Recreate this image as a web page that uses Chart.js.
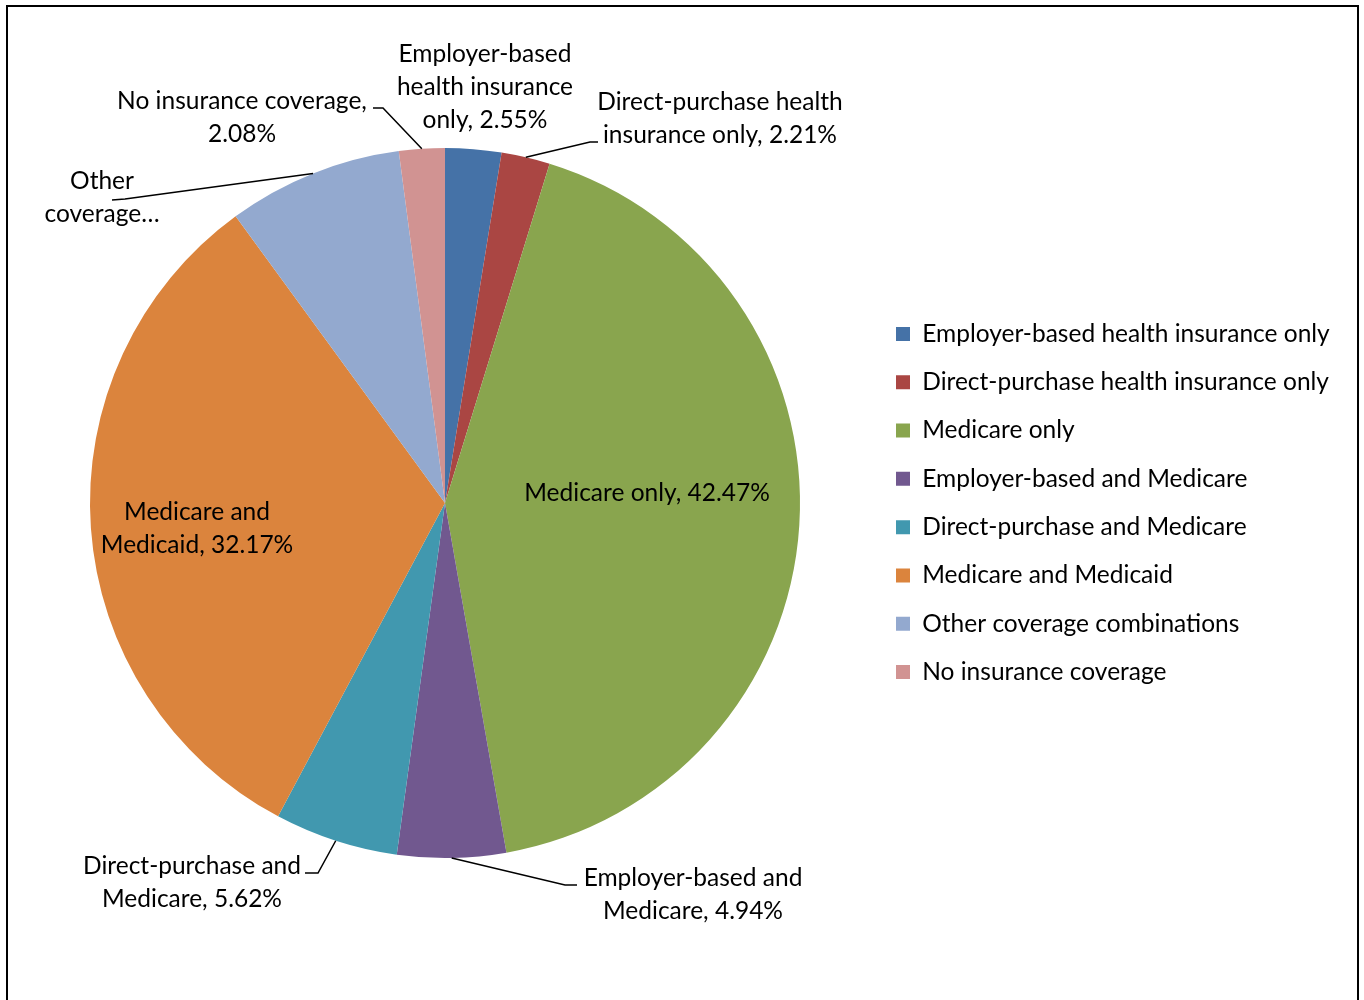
<!DOCTYPE html>
<html>
<head>
<meta charset="utf-8">
<title>Medicare coverage types</title>
<script src="https://cdn.jsdelivr.net/npm/chart.js@4.4.1/dist/chart.umd.min.js"></script>
<style>
    html, body { margin: 0; padding: 0; background: #fff; overflow: hidden; }
    #wrap { position: relative; width: 1364px; height: 1000px; overflow: hidden; }
    #frame { position: absolute; left: 6px; top: 5px; width: 1349px; height: 1100px; border: 2px solid #000; }
    #coverageChart { position: absolute; left: 0; top: 0; }
</style>
</head>
<body>
<div id="wrap">
    <div id="frame"></div>
    <canvas id="coverageChart" width="1364" height="1000"></canvas>
</div>
<script>
const categories = [
    "Employer-based health insurance only",
    "Direct-purchase health insurance only",
    "Medicare only",
    "Employer-based and Medicare",
    "Direct-purchase and Medicare",
    "Medicare and Medicaid",
    "Other coverage combinations",
    "No insurance coverage",
];
const shares = [2.55, 2.21, 42.47, 4.94, 5.62, 32.17, 7.96, 2.08];
const sliceColors = [
    "#4572A7", "#AA4643", "#89A54E", "#71588F",
    "#4198AF", "#DB843D", "#93A9CF", "#D19392",
];

// label text per slice, "{v}" is replaced by the slice value
const labelLines = [
    ["Employer-based", "health insurance", "only, {v}"],
    ["Direct-purchase health", "insurance only, {v}"],
    ["Medicare only, {v}"],
    ["Employer-based and", "Medicare, {v}"],
    ["Direct-purchase and", "Medicare, {v}"],
    ["Medicare and", "Medicaid, {v}"],
    ["Other", "coverage…"],
    ["No insurance coverage,", "{v}"],
];

// where each label sits (centre of its first line) and the bend/end of its leader line
const labelPlacement = [
    { x: 485, y: 54, leader: null },
    { x: 720, y: 102, leader: [[590, 142], [598, 142]] },
    { x: 647, y: 493, leader: null },
    { x: 693, y: 878, leader: [[565, 885], [577, 885]] },
    { x: 192, y: 866, leader: [[318, 873], [305, 873]] },
    { x: 197, y: 512, leader: null },
    { x: 102, y: 181, leader: [[125, 199], [112, 200]] },
    { x: 242, y: 101, leader: [[383, 108], [373, 108]] },
];

const FONT_FAMILY = "Lato, 'Noto Sans', sans-serif";
const FONT_SIZE = 24.5;
const LINE_GAP = 33;
const LEGEND_STEP = 48.3;
const LEGEND_PAD = LEGEND_STEP - FONT_SIZE;
const LEGEND_BOX = 14;
const LEGEND_BOX_X = 896;
const PIE_CX = 445;
const PIE_TOP = 148;
const PIE_BOTTOM = 858;
const CANVAS_W = 1364;
const CANVAS_H = 1000;

// work out the side paddings so the legend column and the pie land where wanted
const measureCtx = document.createElement("canvas").getContext("2d");
measureCtx.font = FONT_SIZE + "px " + FONT_FAMILY;
const widestLabel = Math.max(...categories.map((c) => measureCtx.measureText(c).width));
const legendLeft = LEGEND_BOX_X - LEGEND_PAD;
const legendWidth = LEGEND_PAD + LEGEND_BOX + FONT_SIZE / 2 + widestLabel + 10;
const padRight = Math.max(0, CANVAS_W - legendLeft - legendWidth);
const padLeft = 2 * PIE_CX - legendLeft;

function formatValue(v) {
    return v.toFixed(2) + "%";
}

const sliceLabels = {
    id: "sliceLabels",
    afterDatasetsDraw(chart) {
        const ctx = chart.ctx;
        const meta = chart.getDatasetMeta(0);
        ctx.save();
        ctx.font = FONT_SIZE + "px " + FONT_FAMILY;
        ctx.fillStyle = "#000";
        ctx.strokeStyle = "#000";
        ctx.lineWidth = 1.5;
        ctx.textAlign = "center";
        ctx.textBaseline = "middle";

        meta.data.forEach((arc, i) => {
            const p = arc.getProps(["x", "y", "startAngle", "endAngle", "outerRadius"], true);
            const place = labelPlacement[i];
            if (place.leader) {
                const mid = (p.startAngle + p.endAngle) / 2;
                const ex = p.x + Math.cos(mid) * p.outerRadius;
                const ey = p.y + Math.sin(mid) * p.outerRadius;
                ctx.beginPath();
                ctx.moveTo(ex, ey);
                place.leader.forEach((pt) => ctx.lineTo(pt[0], pt[1]));
                ctx.stroke();
            }
            const value = formatValue(chart.data.datasets[0].data[i]);
            labelLines[i].forEach((line, k) => {
                ctx.fillText(line.replace("{v}", value), place.x, place.y + k * LINE_GAP);
            });
        });
        ctx.restore();
    },
};

new Chart(document.getElementById("coverageChart"), {
    type: "pie",
    data: {
        labels: categories,
        datasets: [
            {
                data: shares,
                backgroundColor: sliceColors,
                borderWidth: 0,
            },
        ],
    },
    options: {
        responsive: false,
        animation: false,
        devicePixelRatio: 1,
        layout: {
            padding: {
                top: PIE_TOP,
                bottom: CANVAS_H - PIE_BOTTOM,
                left: padLeft,
                right: padRight,
            },
        },
        plugins: {
            legend: {
                position: "right",
                labels: {
                    boxWidth: LEGEND_BOX,
                    boxHeight: LEGEND_BOX,
                    padding: LEGEND_PAD,
                    color: "#000",
                    font: { family: FONT_FAMILY, size: FONT_SIZE },
                },
            },
            tooltip: { enabled: false },
        },
    },
    plugins: [sliceLabels],
});
</script>
</body>
</html>
